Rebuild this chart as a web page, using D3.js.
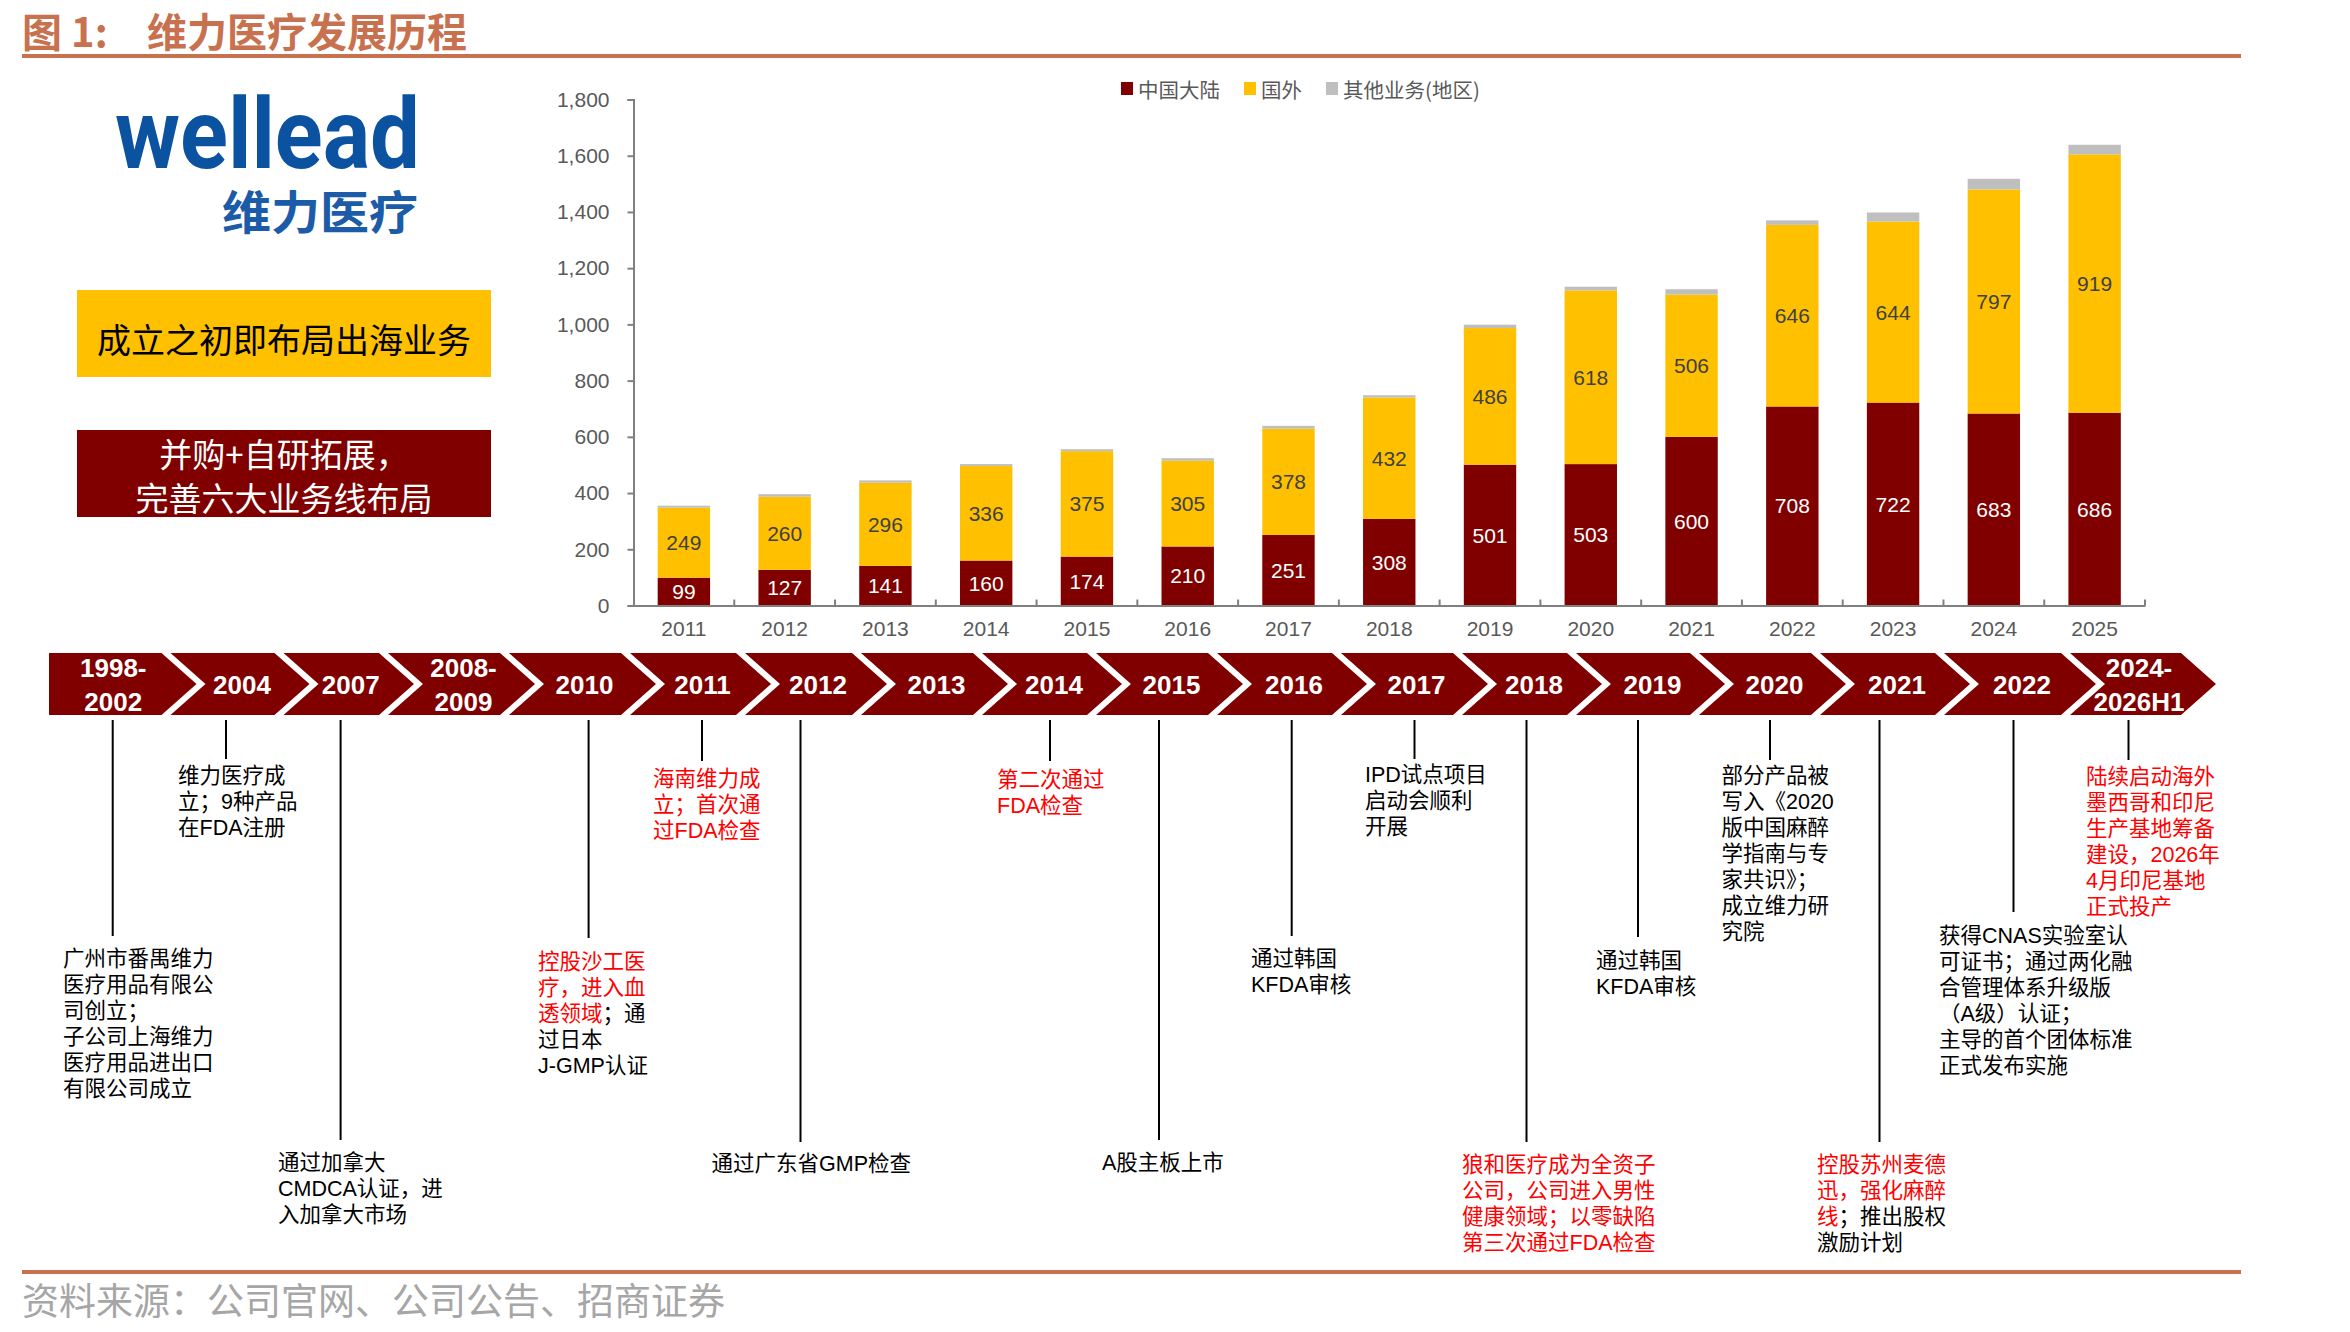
<!DOCTYPE html>
<html>
<head>
<meta charset="utf-8">
<script src="https://cdn.jsdelivr.net/npm/d3@7"></script>
<style>
  body { margin: 0; background: #fff; }
  svg { display: block; font-family: "Liberation Sans", "Noto Sans CJK SC", sans-serif; }
</style>
</head>
<body>
<svg id="chart" width="2350" height="1332"></svg>
<script>
// ---- 数据 ----
const years = ["2011","2012","2013","2014","2015","2016","2017","2018","2019","2020","2021","2022","2023","2024","2025"];
const mainland = [99,127,141,160,174,210,251,308,501,503,600,708,722,683,686];
const overseas = [249,260,296,336,375,305,378,432,486,618,506,646,644,797,919];
const others   = [7,9,8,7,7,9,10,8,12,13,19,16,32,38,34];
const seriesNames = ["中国大陆","国外","其他业务(地区)"];
const yTicks = [0,200,400,600,800,1000,1200,1400,1600,1800];

// 时间轴
const stages = [["1998-","2002"],["2004"],["2007"],["2008-","2009"],["2010"],["2011"],["2012"],["2013"],
  ["2014"],["2015"],["2016"],["2017"],["2018"],["2019"],["2020"],["2021"],["2022"],["2024-","2026H1"]];

// 事件文字, *...* 为红色
const eventTexts = [
  ["广州市番禺维力","医疗用品有限公","司创立；","子公司上海维力","医疗用品进出口","有限公司成立"],
  ["维力医疗成","立；9种产品","在FDA注册"],
  ["通过加拿大","CMDCA认证，进","入加拿大市场"],
  ["*控股沙工医*","*疗，进入血*","*透领域*；通","过日本","J-GMP认证"],
  ["*海南维力成*","*立；首次通*","*过FDA检查*"],
  ["通过广东省GMP检查"],
  ["*第二次通过*","*FDA检查*"],
  ["A股主板上市"],
  ["通过韩国","KFDA审核"],
  ["IPD试点项目","启动会顺利","开展"],
  ["*狼和医疗成为全资子*","*公司，公司进入男性*","*健康领域；以零缺陷*","*第三次通过FDA检查*"],
  ["通过韩国","KFDA审核"],
  ["部分产品被","写入《2020","版中国麻醉","学指南与专","家共识》；","成立维力研","究院"],
  ["*控股苏州麦德*","*迅，强化麻醉*","*线*；推出股权","激励计划"],
  ["获得CNAS实验室认","可证书；通过两化融","合管理体系升级版","（A级）认证；","主导的首个团体标准","正式发布实施"],
  ["*陆续启动海外*","*墨西哥和印尼*","*生产基地筹备*","*建设，2026年*","*4月印尼基地*","*正式投产*"]
];

// ---- 版式 ----
const arrowLeft = [49,170.5,283.5,388,509,630,745,861,982,1096,1217,1341,1462,1576,1699,1820,1944,2070];
const lastShoulder = 2181, arrowGap = 9, arrowDepth = 35, arrowTop = 653, arrowBottom = 715;
const evLineX   = [112.7,226,340.6,588.6,702,800.5,1050,1159,1291.7,1414.5,1526.5,1638,1770,1879.5,2013.5,2128.5];
const evLineEnd = [936,759,1140,938,761,1142,761,1140,936,759,1142,937,760,1142,912,760];
const evTextX   = [63,178,278,538,653,711.5,997,1102,1251,1365,1462,1596,1721.5,1817,1939,2086];
const evTextY   = [959,776,1163,961.6,779,1164,780,1163,959,775,1164.5,960.6,776,1164.5,935.7,776.5];

const svg = d3.select("#chart");
svg.append("rect").attr("width", 2350).attr("height", 1332).attr("fill", "#fff");

const cjk = "'Noto Sans CJK SC', sans-serif";
const accent = "#C8714E";

// 标题
const title = svg.append("text").attr("y", 30).attr("dominant-baseline", "central")
  .attr("font-family", cjk).attr("font-weight", 700).attr("font-size", 40).attr("fill", accent);
title.append("tspan").attr("x", 22).text("图 1:");
title.append("tspan").attr("x", 147).text("维力医疗发展历程");
svg.append("line").attr("x1", 22).attr("x2", 2241).attr("y1", 56).attr("y2", 56)
  .attr("stroke", accent).attr("stroke-width", 4);

// 页脚
svg.append("line").attr("x1", 22).attr("x2", 2241).attr("y1", 1272).attr("y2", 1272)
  .attr("stroke", accent).attr("stroke-width", 4);
svg.append("text").attr("x", 22).attr("y", 1299).attr("dominant-baseline", "central")
  .attr("font-family", cjk).attr("font-size", 37).attr("fill", "#A6A6A6")
  .text("资料来源：公司官网、公司公告、招商证券");

// Logo
svg.append("text").attr("x", 115).attr("y", 168)
  .attr("font-family", "Roboto, sans-serif").attr("font-weight", 700).attr("font-size", 98)
  .attr("textLength", 305).attr("lengthAdjust", "spacingAndGlyphs")
  .attr("fill", "#0B52A1").text("wellead");
svg.append("text").attr("x", 222).attr("y", 209).attr("dominant-baseline", "central")
  .attr("font-family", cjk).attr("font-weight", 700).attr("font-size", 46)
  .attr("textLength", 196).attr("lengthAdjust", "spacingAndGlyphs")
  .attr("fill", "#1B5BA8").text("维力医疗");

// 两个说明框
svg.append("rect").attr("x", 77).attr("y", 290).attr("width", 414).attr("height", 87).attr("fill", "#FFC000");
svg.append("text").attr("x", 284).attr("y", 338).attr("text-anchor", "middle").attr("dominant-baseline", "central")
  .attr("font-family", cjk).attr("font-size", 34).attr("fill", "#000").text("成立之初即布局出海业务");
svg.append("rect").attr("x", 77).attr("y", 430).attr("width", 414).attr("height", 87).attr("fill", "#800000");
[["并购+自研拓展，", 453], ["完善六大业务线布局", 497]].forEach(([t, yy]) => {
  svg.append("text").attr("x", 284).attr("y", yy).attr("text-anchor", "middle").attr("dominant-baseline", "central")
    .attr("font-family", cjk).attr("font-size", 33).attr("fill", "#fff").text(t);
});

// ---- 柱状图 ----
const x = d3.scaleBand().domain(years).range([633.5, 2145]).paddingInner(0.48).paddingOuter(0.24);
const y = d3.scaleLinear().domain([0, 1800]).range([605.5, 99.5]);
const colors = ["#800000", "#FFC000", "#BFBFBF"];
const rows = years.map((yr, i) => ({ year: yr, a: mainland[i], b: overseas[i], c: others[i] }));
const stacked = d3.stack().keys(["a", "b", "c"])(rows);

const yAxis = svg.append("g").attr("transform", "translate(633.5,0)")
  .call(d3.axisLeft(y).tickValues(yTicks).tickSize(6).tickPadding(18).tickFormat(d3.format(",")));
yAxis.select(".domain").attr("stroke", "#808080").attr("stroke-width", 2);
yAxis.selectAll(".tick line").attr("stroke", "#808080").attr("stroke-width", 2);
yAxis.selectAll(".tick text").attr("fill", "#595959").attr("font-size", 21)
  .attr("font-family", "'Liberation Sans', sans-serif");

svg.append("g").selectAll("g").data(stacked).join("g")
  .attr("fill", (d, i) => colors[i])
  .selectAll("rect").data(d => d).join("rect")
  .attr("x", d => x(d.data.year))
  .attr("y", d => y(d[1]))
  .attr("width", x.bandwidth())
  .attr("height", d => y(d[0]) - y(d[1]));

// 数值标签
stacked.slice(0, 2).forEach((s, si) => {
  svg.append("g").selectAll("text").data(s).join("text")
    .attr("x", d => x(d.data.year) + x.bandwidth() / 2)
    .attr("y", d => (y(d[0]) + y(d[1])) / 2)
    .attr("text-anchor", "middle").attr("dominant-baseline", "central")
    .attr("font-size", 21).attr("fill", si === 0 ? "#fff" : "#404040")
    .text(d => d[1] - d[0]);
});

const xAxis = svg.append("g").attr("transform", `translate(0,${y(0)})`)
  .call(d3.axisBottom(x).tickSize(0).tickPadding(16));
xAxis.select(".domain").attr("stroke", "#808080").attr("stroke-width", 2);
xAxis.selectAll(".tick text").attr("fill", "#595959").attr("font-size", 21)
  .attr("font-family", "'Liberation Sans', sans-serif");
// 类别分隔刻度
svg.append("g").selectAll("line").data(years).join("line")
  .attr("x1", d => x(d) + x.bandwidth() + (x.step() - x.bandwidth()) / 2)
  .attr("x2", d => x(d) + x.bandwidth() + (x.step() - x.bandwidth()) / 2)
  .attr("y1", y(0)).attr("y2", y(0) - 6)
  .attr("stroke", "#808080").attr("stroke-width", 2);

// 图例
let lx = 1121;
seriesNames.forEach((name, i) => {
  svg.append("rect").attr("x", lx).attr("y", 82).attr("width", 12).attr("height", 13).attr("fill", colors[i]);
  const t = svg.append("text").attr("x", lx + 17).attr("y", 89).attr("dominant-baseline", "central")
    .attr("font-family", cjk).attr("font-size", 20.5).attr("fill", "#595959").text(name);
  lx += 17 + t.node().getComputedTextLength() + 24;
});

// ---- 时间轴箭头 ----
const arrowMid = (arrowTop + arrowBottom) / 2;
stages.forEach((lab, i) => {
  const L = arrowLeft[i];
  const S = i < stages.length - 1 ? arrowLeft[i + 1] - arrowGap : lastShoulder;
  const p = d3.path();
  p.moveTo(L, arrowTop);
  p.lineTo(S, arrowTop);
  p.lineTo(S + arrowDepth, arrowMid);
  p.lineTo(S, arrowBottom);
  p.lineTo(L, arrowBottom);
  if (i > 0) p.lineTo(L + arrowDepth, arrowMid);
  p.closePath();
  svg.append("path").attr("d", p.toString()).attr("fill", "#800000");
  const cx = (L + (i ? arrowDepth : 12) + S) / 2 + (i === stages.length - 1 ? -4 : 2);
  const ys = lab.length === 2 ? [668, 702] : [685];
  lab.forEach((t, k) => {
    svg.append("text").attr("x", cx).attr("y", ys[k]).attr("text-anchor", "middle")
      .attr("dominant-baseline", "central").attr("font-weight", 700).attr("font-size", 26)
      .attr("fill", "#fff").text(t);
  });
});

// ---- 事件引线与文字 ----
eventTexts.forEach((lines, i) => {
  svg.append("line").attr("x1", evLineX[i]).attr("x2", evLineX[i])
    .attr("y1", 720).attr("y2", evLineEnd[i]).attr("stroke", "#000").attr("stroke-width", 2);
  lines.forEach((ln, k) => {
    const t = svg.append("text").attr("x", evTextX[i]).attr("y", evTextY[i] + k * 26)
      .attr("dominant-baseline", "central").attr("font-size", 21.5);
    ln.split("*").forEach((seg, j) => {
      if (seg) t.append("tspan").attr("fill", j % 2 ? "#FF0000" : "#000").text(seg);
    });
  });
});
</script>
</body>
</html>
